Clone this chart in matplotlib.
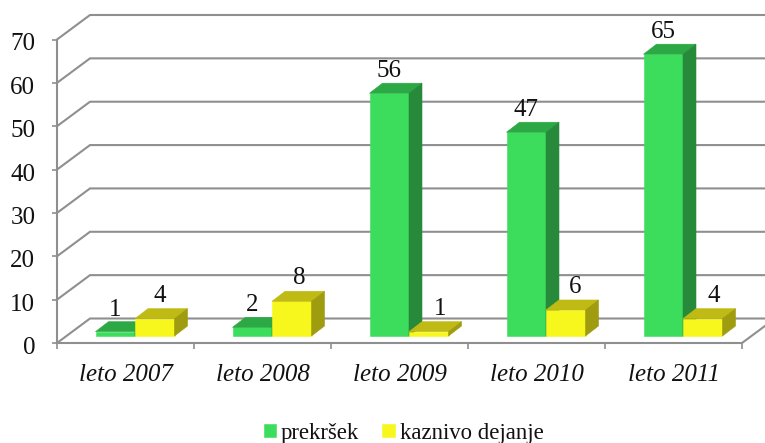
import matplotlib
matplotlib.use("Agg")
from matplotlib import pyplot as plt
from matplotlib.patches import Polygon
from matplotlib.transforms import ScaledTranslation

years = ["leto 2007", "leto 2008", "leto 2009", "leto 2010", "leto 2011"]
prekrsek = [1, 2, 56, 47, 65]
kaznivo = [4, 8, 1, 6, 4]
y_ticks = [0, 10, 20, 30, 40, 50, 60, 70]

plt.rcParams["font.family"] = ["Liberation Serif", "DejaVu Serif"]

W, H = 765, 443
fig = plt.figure(figsize=(W / 100, H / 100), dpi=100)
fig.patch.set_facecolor("white")
ax = fig.add_axes([57 / W, (H - 343) / H, 685 / W, 303.5 / H])
ax.set_xlim(0, 5)
ax.set_ylim(0, 70)

# pixel to data units
px_x = 5 / 685
px_y = 70 / 303.5
wall_dx, wall_dy = 33 * px_x, 24.5 * px_y
bar_dx, bar_dy = 13 * px_x, 10 * px_y
base = 7 * px_y
bar_w = 39.5 * px_x
grid_col = "#8f8f8f"

# walls and floor
for v in y_ticks:
    ax.plot([0, wall_dx, 5 + wall_dx], [v, v + wall_dy, v + wall_dy],
            color=grid_col, lw=1.5, clip_on=False, zorder=1, solid_joinstyle="miter")
ax.plot([5, 5 + wall_dx], [0, wall_dy], color=grid_col, lw=1.5, clip_on=False, zorder=1)


def bars_3d(xs, vals, front, top, side, label):
    bars = ax.bar(xs, vals, bar_w, bottom=base, align="edge", color=front,
                  edgecolor=front, lw=0.4, label=label, zorder=3, clip_on=False)
    for x, v in zip(xs, vals):
        y = base + v
        ax.add_patch(Polygon([(x, y), (x + bar_dx, y + bar_dy), (x + bar_w + bar_dx, y + bar_dy), (x + bar_w, y)],
                             facecolor=top, edgecolor=top, lw=0.4, zorder=3, clip_on=False))
        ax.add_patch(Polygon([(x + bar_w, base), (x + bar_w + bar_dx, base + bar_dy),
                              (x + bar_w + bar_dx, y + bar_dy), (x + bar_w, y)],
                             facecolor=side, edgecolor=side, lw=0.4, zorder=3, clip_on=False))
    return bars


x_green = [i + 38.5 * px_x for i in range(5)]
x_yellow = [x + bar_w for x in x_green]
bars_3d(x_green, prekrsek, "#3cdc5c", "#2ca844", "#268a3a", "prekršek")
bars_3d(x_yellow, kaznivo, "#f7f71e", "#bfba14", "#9f9c10", "kaznivo dejanje")

# value labels, the yellow ones sit a little to the right
for x, v in zip(x_green, prekrsek):
    ax.annotate(str(v), (x + bar_w / 2, base + v), xytext=(0, 22), textcoords="offset pixels",
                ha="center", va="center", fontsize=18, color="#111111", zorder=5, annotation_clip=False)
for x, v, shift in zip(x_yellow, kaznivo, [5, 7, 11, 9, 11]):
    ax.annotate(str(v), (x + bar_w / 2, base + v), xytext=(shift, 23), textcoords="offset pixels",
                ha="center", va="center", fontsize=18, color="#111111", zorder=5, annotation_clip=False)

# axes
for s in ["top", "right"]:
    ax.spines[s].set_visible(False)
for s in ["left", "bottom"]:
    ax.spines[s].set_color(grid_col)
    ax.spines[s].set_linewidth(1.5)
ax.patch.set_alpha(0)

ax.set_yticks(y_ticks)
ax.tick_params(axis="y", length=3.6, width=1.2, color=grid_col, labelsize=18, pad=12, labelcolor="#111111")
down = ScaledTranslation(0, -2.5 / 100, fig.dpi_scale_trans)
for lab in ax.get_yticklabels():
    lab.set_transform(lab.get_transform() + down)
ax.set_xticks(range(6))
ax.set_xticklabels([])
ax.tick_params(axis="x", which="major", length=4.3, width=1.2, color=grid_col)
ax.set_xticks([i + 0.5 for i in range(5)], minor=True)
ax.set_xticklabels(years, minor=True, fontsize=18, style="italic", color="#111111")
ax.tick_params(axis="x", which="minor", length=0, pad=15)

ax.legend(loc="center", bbox_to_anchor=(403.5 / W, (H - 433) / H), bbox_transform=fig.transFigure,
          ncol=2, frameon=False, fontsize=16.4, handlelength=0.55, handleheight=0.55,
          handletextpad=0.2, columnspacing=1.03, borderpad=0, labelcolor="#111111")

fig.savefig("out.png", dpi=100)
